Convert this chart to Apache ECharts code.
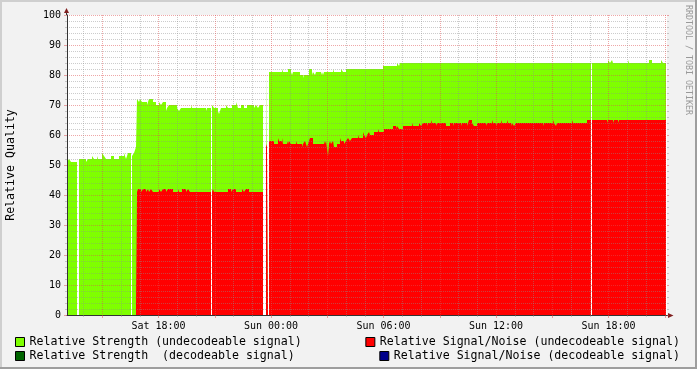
<!DOCTYPE html>
<html><head><meta charset="utf-8">
<script src="https://cdn.jsdelivr.net/npm/echarts@6/dist/echarts.min.js"></script>
<style>html,body{margin:0;padding:0;background:#f2f2f2}#c{width:697px;height:369px}</style>
</head><body><div id="c"></div>
<script>
// ---- data ----
const seriesNames = [
  'Relative Strength (undecodeable signal)',
  'Relative Signal/Noise (undecodeable signal)',
  'Relative Strength  (decodeable signal)',
  'Relative Signal/Noise (decodeable signal)'
];
const startHour = 13.12;          // Sat 13:07 (hours since Sat 00:00)
const stepHours = 3.2 / 60;       // one sample every 3.2 minutes
const spanHours = 32;

// [value, number of consecutive samples]
const strengthUndecodeable = [
  [51,2],[52,2],[51,6],[null,2],[52,7],[51,2],[52,4],[53,2],[52,3],[53,1],[52,4],[54,2],[53,2],[52,5],[53,3],[52,5],[53,5],[54,2],[52,2],[54,3],[null,1],[53,2],[54,2],[56,1],
  [72,2],[71,1],[72,2],[71,5],[70,2],[72,4],[71,3],[70,3],[71,2],[70,2],[71,3],[68,1],[69,2],[70,8],[69,2],[68,2],[69,10],[70,1],[69,14],[68,1],[69,4],[null,1],
  [70,2],[69,4],[68,1],[67,2],[69,5],[70,2],[69,4],[70,4],[71,2],[69,3],[70,3],[69,3],[70,7],[69,2],[70,2],[69,2],[70,3],[null,3],[81,2],[null,1],
  [81,13],[82,1],[81,5],[82,3],[81,1],[80,1],[81,7],[80,3],[79,1],[80,5],[82,3],[80,1],[81,2],[80,1],[81,5],[80,1],[81,1],[80,1],[81,9],[82,1],[81,7],[82,2],[81,3],[82,37],
  [83,14],[84,2],[83,1],[84,191],[null,1],[84,16],[85,2],[84,2],[85,1],[84,15],[85,1],[84,20],[85,3],[84,9],[85,2],[84,3]
];
const snrUndecodeable = [
  [0,10],[null,2],[0,52],[null,1],[0,4],[3,1],
  [41,1],[42,3],[41,2],[42,3],[41,2],[42,1],[41,2],[42,2],[41,6],[42,2],[41,2],[42,3],[41,2],[42,5],[41,5],[42,1],[41,3],[42,4],[41,2],[42,2],[41,21],[null,1],
  [41,1],[42,1],[41,14],[42,3],[41,2],[42,3],[41,6],[42,2],[41,2],[42,3],[41,14],[null,3],[57,1],[56,1],[null,1],
  [58,5],[57,4],[59,1],[58,3],[59,1],[57,4],[58,1],[57,1],[58,2],[57,5],[58,1],[57,5],[56,1],[57,2],[58,2],[56,1],[57,2],[59,3],[57,11],[58,1],[57,1],[58,2],[53,1],[57,1],[58,1],[57,2],[58,1],[56,3],[57,3],[59,1],[58,3],[57,2],[58,2],[59,2],[58,2],[59,6],[60,1],[59,4],[61,1],[60,2],[59,1],[60,2],[61,1],[60,4],[61,4],[62,1],[61,5],[62,9],[63,3],[62,1],[63,2],[62,4],[63,9],[64,1],[63,6],[64,2],[63,2],[64,4],[63,1],[64,3],[65,1],[64,4],[63,1],[64,9],[63,4],[64,3],[63,1],[64,7],[63,1],[64,5],[63,1],[64,1],[65,3],[64,2],[63,3],[64,9],[63,1],[64,5],[65,1],[64,3],[63,1],[64,4],[65,1],[64,5],[65,1],[64,3],[63,1],[64,2],[63,2],[64,27],[63,1],[64,9],[65,1],[64,2],[63,1],[64,15],[65,1],[64,14],[65,4],[null,1],
  [65,5],[64.5,1],[65,9],[64,1],[65,5],[64,1],[65,4],[64,1],[65,47]
];
const strengthDecodeable = [];
const snrDecodeable = [];

const minorHourTicks = [14,16,17,19,20,22,23,25,26,28,29,31,32,34,35,37,38,40,41,43,44];
const majorHourTicks = [15,18,21,24,27,30,33,36,39,42,45];
const labelHours = [18,24,30,36,42];
const labelTexts = ['Sat 18:00','Sun 00:00','Sun 06:00','Sun 12:00','Sun 18:00'];

// ---- build ----
function toPoints(samples){
  const pts = []; let i = 0;
  samples.forEach(function(s, k){
    const v = s[0], n = s[1];
    const t0 = startHour + i * stepHours;
    if (v === null) { pts.push([t0, null]); }
    else {
      pts.push([t0, v]);
      const nx = samples[k + 1];
      if (!nx || nx[0] === null) pts.push([startHour + (i + n) * stepHours, v]);
    }
    i += n;
  });
  return pts;
}

const MONO = 'DejaVu Sans Mono';
const GRID_C = 'rgba(143,143,143,0.45)';
const MGRID_C = 'rgba(222,79,79,0.5)';
const AXIS_C = '#333';
const legendCommon = {
  orient: 'horizontal', padding: 0, itemWidth: 9, itemHeight: 9, icon: 'rect',
  selectedMode: false,
  itemStyle: { borderColor: '#000', borderWidth: 1 },
  textStyle: { fontFamily: MONO, fontSize: 11.6, color: '#000' }
};

function areaSeries(name, samples, color){
  return {
    name: name, type: 'line', step: 'end', data: toPoints(samples),
    symbol: 'none', showSymbol: false, connectNulls: false,
    lineStyle: { width: 0, opacity: 0 },
    itemStyle: { color: color },
    areaStyle: { color: color, opacity: 1 },
    xAxisIndex: 0, yAxisIndex: 0, z: 2, silent: true
  };
}

const chart = echarts.init(document.getElementById('c'), null, { renderer: 'canvas' });
chart.setOption({
  animation: false,
  backgroundColor: '#f2f2f2',
  grid: { left: 67, top: 15, width: 600, height: 300, show: true, backgroundColor: '#fff', borderWidth: 0, outerBoundsMode: 'none' },
  legend: [
    Object.assign({ data: [seriesNames[0]], left: 15, top: 336 }, legendCommon),
    Object.assign({ data: [seriesNames[2]], left: 15, top: 350 }, legendCommon),
    Object.assign({ data: [seriesNames[1]], right: 17, top: 336 }, legendCommon),
    Object.assign({ data: [seriesNames[3]], right: 17, top: 350 }, legendCommon)
  ],
  xAxis: [
    {
      type: 'value', min: startHour, max: startHour + spanHours, position: 'bottom', z: 5,
      axisLine: { show: true, lineStyle: { color: AXIS_C, width: 1 } },
      axisTick: { show: true, customValues: minorHourTicks, length: 2, lineStyle: { color: GRID_C } },
      splitLine: { show: true, lineStyle: { color: GRID_C, width: 1, type: [1, 1] } },
      axisLabel: {
        customValues: labelHours, margin: 6,
        fontFamily: MONO, fontSize: 10, color: '#000',
        formatter: function(v){ return labelTexts[labelHours.indexOf(Math.round(v))]; }
      }
    },
    {
      type: 'value', min: startHour, max: startHour + spanHours, position: 'bottom', z: 6,
      axisLine: { show: false },
      axisTick: { show: true, customValues: majorHourTicks, length: 3, lineStyle: { color: MGRID_C } },
      splitLine: { show: true, lineStyle: { color: MGRID_C, width: 1, type: [1, 1] } },
      axisLabel: { show: false }
    }
  ],
  yAxis: [
    {
      type: 'value', min: 0, max: 100, interval: 10, position: 'left', z: 5,
      name: 'Relative Quality', nameLocation: 'middle', nameGap: 50,
      nameTextStyle: { fontFamily: MONO, fontSize: 11.6, color: '#000' },
      axisLine: { show: true, lineStyle: { color: AXIS_C, width: 1 } },
      axisTick: { show: true, length: 3, lineStyle: { color: MGRID_C } },
      minorTick: { show: true, splitNumber: 5, length: 2, lineStyle: { color: GRID_C } },
      splitLine: { show: true, lineStyle: { color: MGRID_C, width: 1, type: [1, 1] } },
      minorSplitLine: { show: true, lineStyle: { color: GRID_C, width: 1, type: [1, 1] } },
      axisLabel: { margin: 6, fontFamily: MONO, fontSize: 10, color: '#000' }
    },
    {
      type: 'value', min: 0, max: 100, interval: 10, position: 'right', z: 5,
      axisLine: { show: false },
      axisTick: { show: true, length: 2, lineStyle: { color: MGRID_C } },
      minorTick: { show: true, splitNumber: 5, length: 2, lineStyle: { color: GRID_C } },
      splitLine: { show: false }, axisLabel: { show: false }
    }
  ],
  series: [
    areaSeries(seriesNames[0], strengthUndecodeable, '#7fff00'),
    areaSeries(seriesNames[1], snrUndecodeable, '#ff0000'),
    { name: seriesNames[2], type: 'line', data: strengthDecodeable, itemStyle: { color: '#006400' }, symbol: 'none' },
    { name: seriesNames[3], type: 'line', data: snrDecodeable, itemStyle: { color: '#00008b' }, symbol: 'none' }
  ],
  graphic: [
    { type: 'rect', shape: { x: 0, y: 0, width: 697, height: 2 }, style: { fill: '#cfcfcf' }, silent: true },
    { type: 'rect', shape: { x: 0, y: 0, width: 2, height: 369 }, style: { fill: '#cfcfcf' }, silent: true },
    { type: 'rect', shape: { x: 0, y: 367, width: 697, height: 2 }, style: { fill: '#9e9e9e' }, silent: true },
    { type: 'rect', shape: { x: 695, y: 0, width: 2, height: 369 }, style: { fill: '#9e9e9e' }, silent: true },
    { type: 'line', shape: { x1: 66.5, y1: 11, x2: 66.5, y2: 15 }, style: { stroke: AXIS_C, lineWidth: 1 }, silent: true },
    { type: 'line', shape: { x1: 666, y1: 315.5, x2: 669, y2: 315.5 }, style: { stroke: AXIS_C, lineWidth: 1 }, silent: true },
    { type: 'polygon', shape: { points: [[64, 13], [69, 13], [66.5, 8]] }, style: { fill: '#801f1f' }, silent: true },
    { type: 'polygon', shape: { points: [[668, 313], [668, 318], [673.5, 315.5]] }, style: { fill: '#801f1f' }, silent: true },
    { type: 'text', x: 688, y: 5, rotation: -Math.PI / 2, silent: true,
      style: { text: 'RRDTOOL / TOBI OETIKER', font: '8.3px "DejaVu Sans Mono"', fill: '#999', textAlign: 'left', textVerticalAlign: 'middle' } }
  ]
});
</script>
</body></html>
